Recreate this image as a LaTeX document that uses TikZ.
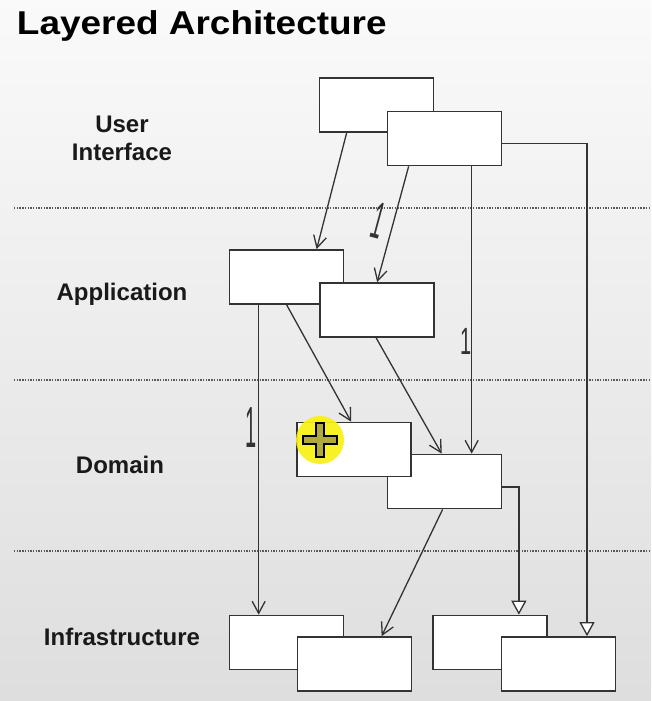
\documentclass[tikz,border=0pt]{standalone}
\usepackage{fontspec}
\setmainfont{Liberation Sans}
\usepackage{tikz}
\usetikzlibrary{calc, arrows.meta}

\begin{document}
\begin{tikzpicture}[x=1pt, y=-1pt, >={Straight Barb[length=12pt, width=13pt]}]
    \tikzstyle{layer} = [font=\fontsize{24}{28}\selectfont\bfseries, align=center, text=black!90]
    \tikzstyle{box} = [rectangle, draw=black!80, line width=1.7pt, fill=white, minimum width=114pt, minimum height=54pt, inner sep=0pt]
    \tikzstyle{divider} = [draw=black!65, line width=1.5pt, dash pattern=on 1.4pt off 1.3pt]
    \tikzstyle{line} = [draw=black!80, ->, line width=1.3pt]
    \tikzstyle{impl} = [draw=black!80, -{Triangle[open, length=14pt, width=15pt, fill=white]}, line width=1.3pt]
    \tikzstyle{tally} = [font=\fontsize{20}{20}\selectfont, text=black!80, inner sep=0pt]

    % background
    \shade [top color=white!98!black, bottom color=white!87!black] (0,0) rectangle (651,701);
    \useasboundingbox (0,0) rectangle (651,701);

    \node [anchor=base west, font=\fontsize{33}{38}\selectfont\bfseries, xscale=1.12] (title) at (13,35) {Layered Architecture};

    \foreach \y in {208, 380, 551}
        \draw [divider] (14,\y) -- (651,\y);

    \node [layer] (ui) at (122,138) {User\\Interface};
    \node [layer] (app) at (122,294) {Application};
    \node [layer] (dom) at (120,465) {Domain};
    \node [layer] (inf) at (122,637) {Infrastructure};

    % boxes, back one first
    \node [box] (ui1) at (376.5,105) {};
    \node [box] (ui2) at (444.5,138.5) {};
    \node [box] (app1) at (286.5,277) {};
    \node [box] (app2) at (377,310) {};
    \node [box] (dom2) at (444.5,481.5) {};
    \node [box] (dom1) at (354,449.5) {};
    \node [box] (inf1) at (286.5,642.5) {};
    \node [box] (inf2) at (354.5,664) {};
    \node [box] (inf3) at (490,642.5) {};
    \node [box] (inf4) at (558.5,664) {};

    \coordinate (a) at ($(ui2.south west)+(85,0)$);
    \coordinate (b) at ($(app1.south west)+(30,0)$);

    \path [line] ($(ui1.south west)+(28,0)$) -- ($(app1.north west)+(88,0)$);
    \path [line] ($(ui2.south west)+(22,0)$) -- ($(app2.north west)+(58,0)$);
    \path [line] (a) -- (a |- dom2.north);
    \path [impl] ($(ui2.east)+(0,5)$) -| ($(inf4.north)+(28.5,0)$);
    \path [line] (b) -- (b |- inf1.north);
    \path [line] ($(app1.south west)+(58,0)$) -- ($(dom1.north west)+(55,0)$);
    \path [line] ($(app2.south west)+(57,0)$) -- ($(dom2.north west)+(55,0)$);
    \path [impl] ($(dom2.east)+(0,5.5)$) -| ($(inf3.north east)+(-29,0)$);
    \path [line] ($(dom2.south west)+(56,0)$) -- ($(inf2.north west)+(85,0)$);

    \node [tally, rotate=-15, yscale=2.6] (one1) at (378,221) {1};
    \node [tally, yscale=1.9] (one2) at (466,341) {1};
    \node [tally, yscale=2.9] (one3) at (251,428) {1};

    % pointer
    \fill [fill={rgb,255:red,248;green,240;blue,20}, opacity=0.92] (320,440) circle (24);
    \draw [shift={(320,440)}, line width=1.3pt, fill=yellow!65!black]
        (-4,-17) -- (4,-17) -- (4,-4) -- (17,-4) -- (17,4) -- (4,4) -- (4,17)
        -- (-4,17) -- (-4,4) -- (-17,4) -- (-17,-4) -- (-4,-4) -- cycle;
\end{tikzpicture}
\end{document}
